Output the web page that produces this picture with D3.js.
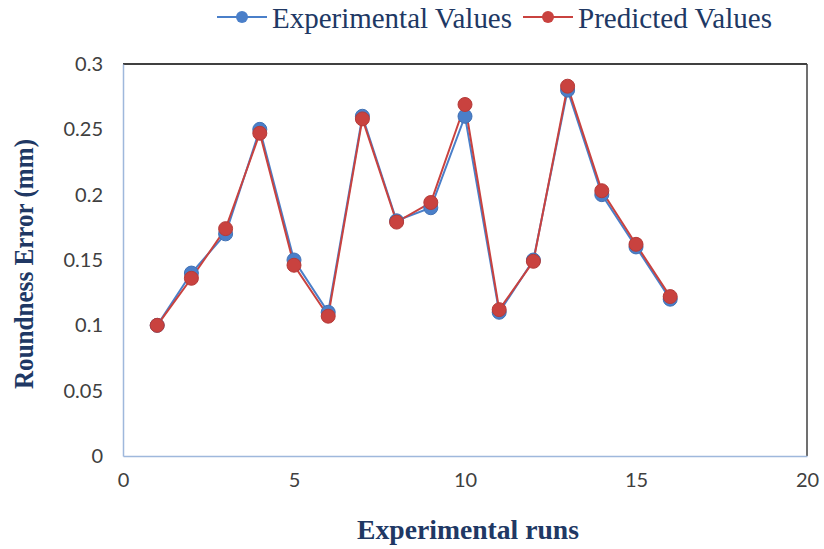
<!DOCTYPE html>
<html>
<head>
<meta charset="utf-8">
<script src="https://cdn.jsdelivr.net/npm/d3@7"></script>
<style>
  body { margin: 0; background: #fff; }
</style>
</head>
<body>
<div id="chart"></div>
<script>
const runs = [1, 2, 3, 4, 5, 6, 7, 8, 9, 10, 11, 12, 13, 14, 15, 16];
const experimentalValues = [0.10, 0.14, 0.17, 0.25, 0.15, 0.11, 0.26, 0.18, 0.19, 0.26, 0.11, 0.15, 0.28, 0.20, 0.16, 0.12];
const predictedValues = [0.10, 0.136, 0.174, 0.247, 0.146, 0.107, 0.258, 0.179, 0.194, 0.269, 0.112, 0.149, 0.283, 0.203, 0.162, 0.122];
const xTicks = [0, 5, 10, 15, 20];
const yTicks = [0, 0.05, 0.1, 0.15, 0.2, 0.25, 0.3];

const seriesColors = {
    "Experimental Values": "#4a7fc9",
    "Predicted Values": "#c9423f"
};

const margin = { top: 64, right: 17, bottom: 93, left: 123 },
    width = 824 - margin.left - margin.right,
    height = 549 - margin.top - margin.bottom;

const svg = d3.select("#chart").append("svg")
    .attr("width", 824)
    .attr("height", 549);

const g = svg.append("g")
    .attr("transform", `translate(${margin.left},${margin.top})`);

const x = d3.scaleLinear().domain([0, 20]).range([0, width]);
const y = d3.scaleLinear().domain([0, 0.3]).range([height, 0]);

// frame: dark top/right, light blue axes
g.append("line").attr("x1", 0).attr("x2", width).attr("y1", 0).attr("y2", 0)
    .attr("stroke", "#404040").attr("stroke-width", 2);
g.append("line").attr("x1", width).attr("x2", width).attr("y1", 0).attr("y2", height)
    .attr("stroke", "#404040").attr("stroke-width", 1.5);

const xAxis = g.append("g")
    .attr("transform", `translate(0,${height})`)
    .call(d3.axisBottom(x).tickValues(xTicks).tickSize(0).tickPadding(17).tickFormat(d3.format("d")));
const yAxis = g.append("g")
    .call(d3.axisLeft(y).tickValues(yTicks).tickSize(0).tickPadding(20).tickFormat(d => d === 0 ? "0" : d3.format("")(d)));

[xAxis, yAxis].forEach(a => {
    a.select(".domain").attr("stroke", "#9fb8dc").attr("stroke-width", 1.5);
    a.selectAll("text")
        .style("font-family", "Lato, 'Liberation Sans', sans-serif")
        .style("font-size", "20px")
        .attr("fill", "#404040");
});

const line = d3.line()
    .x((d, i) => x(runs[i]))
    .y(d => y(d));

const series = [
    { name: "Experimental Values", values: experimentalValues },
    { name: "Predicted Values", values: predictedValues }
];

series.forEach(s => {
    g.append("path")
        .datum(s.values)
        .attr("fill", "none")
        .attr("stroke", seriesColors[s.name])
        .attr("stroke-width", 2)
        .attr("d", line);
});

series.forEach(s => {
    g.append("g")
        .selectAll("circle")
        .data(s.values)
        .enter().append("circle")
        .attr("cx", (d, i) => x(runs[i]))
        .attr("cy", d => y(d))
        .attr("r", 7)
        .attr("fill", seriesColors[s.name])
        .attr("stroke", d3.color(seriesColors[s.name]).darker(0.3))
        .attr("stroke-width", 1);
});

// axis titles
svg.append("text")
    .attr("x", 468)
    .attr("y", 539)
    .attr("text-anchor", "middle")
    .style("font-family", "'Liberation Serif', serif")
    .style("font-weight", "bold")
    .style("font-size", "28px")
    .attr("fill", "#203864")
    .attr("textLength", 222)
    .attr("lengthAdjust", "spacingAndGlyphs")
    .text("Experimental runs");

svg.append("text")
    .attr("transform", `translate(33,${margin.top + height / 2 + 4}) rotate(-90)`)
    .attr("text-anchor", "middle")
    .style("font-family", "'Liberation Serif', serif")
    .style("font-weight", "bold")
    .style("font-size", "27px")
    .attr("fill", "#203864")
    .attr("textLength", 250)
    .attr("lengthAdjust", "spacingAndGlyphs")
    .text("Roundness Error (mm)");

// legend
const legend = svg.append("g").attr("transform", "translate(217,17)");
const legendItems = [
    { name: "Experimental Values", x: 0, w: 240 },
    { name: "Predicted Values", x: 306, w: 194 }
];
legendItems.forEach(item => {
    const li = legend.append("g").attr("transform", `translate(${item.x},0)`);
    li.append("line").attr("x1", 0).attr("x2", 50).attr("y1", 0).attr("y2", 0)
        .attr("stroke", seriesColors[item.name]).attr("stroke-width", 2);
    li.append("circle").attr("cx", 25).attr("cy", 0).attr("r", 6)
        .attr("fill", seriesColors[item.name]);
    li.append("text")
        .attr("x", 55)
        .attr("y", 11)
        .style("font-family", "'Liberation Serif', serif")
        .style("font-size", "30px")
        .attr("fill", "#203864")
        .attr("textLength", item.w)
        .attr("lengthAdjust", "spacingAndGlyphs")
        .text(item.name);
});
</script>
</body>
</html>
